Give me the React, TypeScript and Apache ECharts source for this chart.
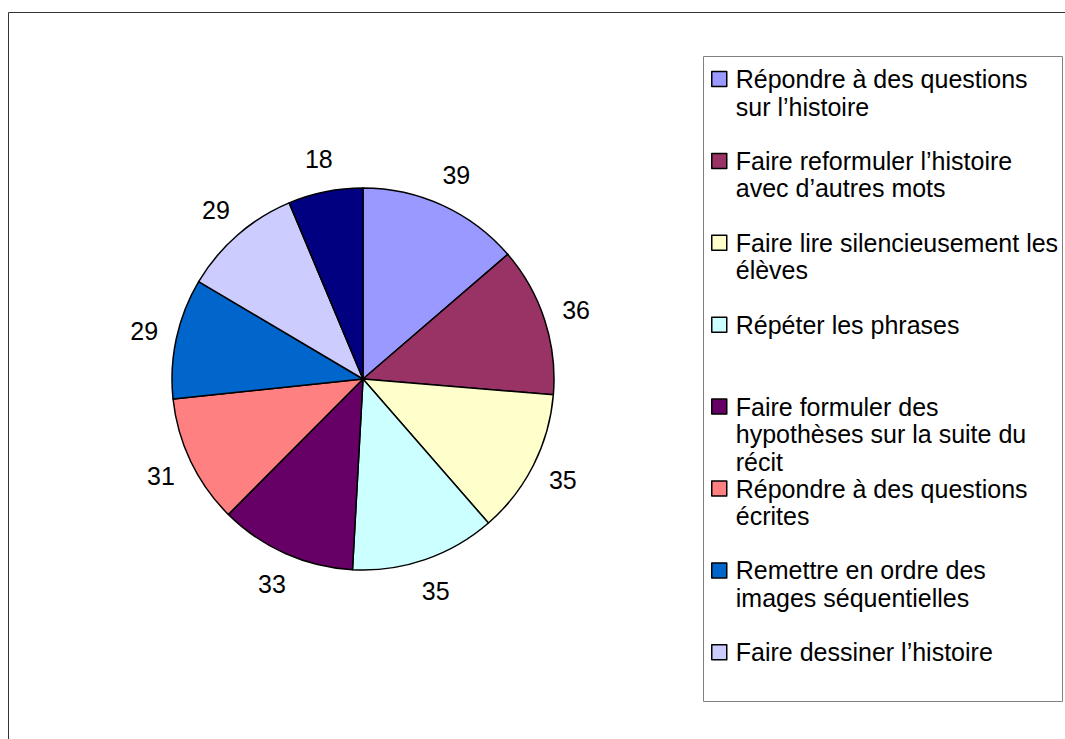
import React, { useEffect, useRef } from 'react';
import * as echarts from 'echarts';

const categories = [
  'Répondre à des questions sur l’histoire',
  'Faire reformuler l’histoire avec d’autres mots',
  'Faire lire silencieusement les élèves',
  'Répéter les phrases',
  'Faire formuler des hypothèses sur la suite du récit',
  'Répondre à des questions écrites',
  'Remettre en ordre des images séquentielles',
  'Faire dessiner l’histoire',
  'Autre',
];
const values = [39, 36, 35, 35, 33, 31, 29, 29, 18];
const colors = ['#9999FF', '#993366', '#FFFFCC', '#CCFFFF', '#660066', '#FF8080', '#0066CC', '#CCCCFF', '#000080'];
// legend shows only the first 8 entries (the 9th is clipped in the original)
const legendLines = [
  ['Répondre à des questions', 'sur l’histoire'],
  ['Faire reformuler l’histoire', 'avec d’autres mots'],
  ['Faire lire silencieusement les', 'élèves'],
  ['Répéter les phrases'],
  ['Faire formuler des', 'hypothèses sur la suite du', 'récit'],
  ['Répondre à des questions', 'écrites'],
  ['Remettre en ordre des', 'images séquentielles'],
  ['Faire dessiner l’histoire'],
];

const FONT = '"Liberation Sans", Arial, Helvetica, sans-serif';
const LH = 27.5;
const LEG_FIRST = 79;
const LEG_STEP = 81.9;
const ICON = 15;

export default function App() {
  const ref = useRef<HTMLDivElement>(null);
  useEffect(() => {
    if (!ref.current) return;
    const chart = echarts.init(ref.current, null, { renderer: 'svg' });
    const data = categories.map((name, i) => ({ name, value: values[i] }));
    const legends = legendLines.map((lines, i) => {
      const n = lines.length;
      const center = LEG_FIRST + i * LEG_STEP;
      const text = '\n'.repeat(n - 1) + lines.join('\n');
      return {
        data: [categories[i]],
        orient: 'vertical',
        left: 711,
        top: center - (n - 0.5) * LH,
        padding: 0,
        itemWidth: ICON,
        itemHeight: ICON,
        icon: 'rect',
        selectedMode: false,
        itemStyle: { borderColor: '#000', borderWidth: 1.5 },
        textStyle: {
          fontSize: 25,
          fontFamily: FONT,
          color: '#000',
          lineHeight: LH,
          padding: [0, 0, 0, 4],
        },
        formatter: () => text,
      };
    });
    chart.setOption({
      animation: false,
      color: colors,
      graphic: [
        {
          type: 'rect',
          shape: { x: 8.5, y: 12.5, width: 1200, height: 1000 },
          style: { fill: 'none', stroke: '#333', lineWidth: 1 },
          silent: true,
          z: 0,
        },
        {
          type: 'rect',
          shape: { x: 703.5, y: 56.5, width: 359, height: 645 },
          style: { fill: '#fff', stroke: '#808080', lineWidth: 1 },
          silent: true,
          z: 0,
        },
      ],
      legend: legends,
      series: [
        {
          type: 'pie',
          center: [363, 379],
          radius: 191,
          startAngle: 90,
          clockwise: true,
          data,
          label: { show: false },
          labelLine: { show: false },
          itemStyle: { borderColor: '#000', borderWidth: 1.5 },
          emphasis: { disabled: true },
          silent: true,
        },
        {
          type: 'pie',
          center: [363, 379],
          radius: [200, 242],
          startAngle: 90,
          clockwise: true,
          data,
          itemStyle: { color: 'rgba(0,0,0,0)', borderWidth: 0 },
          label: {
            show: true,
            position: 'inside',
            formatter: '{c}',
            fontSize: 25,
            fontFamily: FONT,
            color: '#000',
          },
          labelLine: { show: false },
          emphasis: { disabled: true },
          silent: true,
        },
      ],
    });
    return () => chart.dispose();
  }, []);
  return (
    <div
      ref={ref}
      style={{ position: 'absolute', left: 0, top: 0, width: 1065, height: 739, background: '#fff' }}
    />
  );
}
